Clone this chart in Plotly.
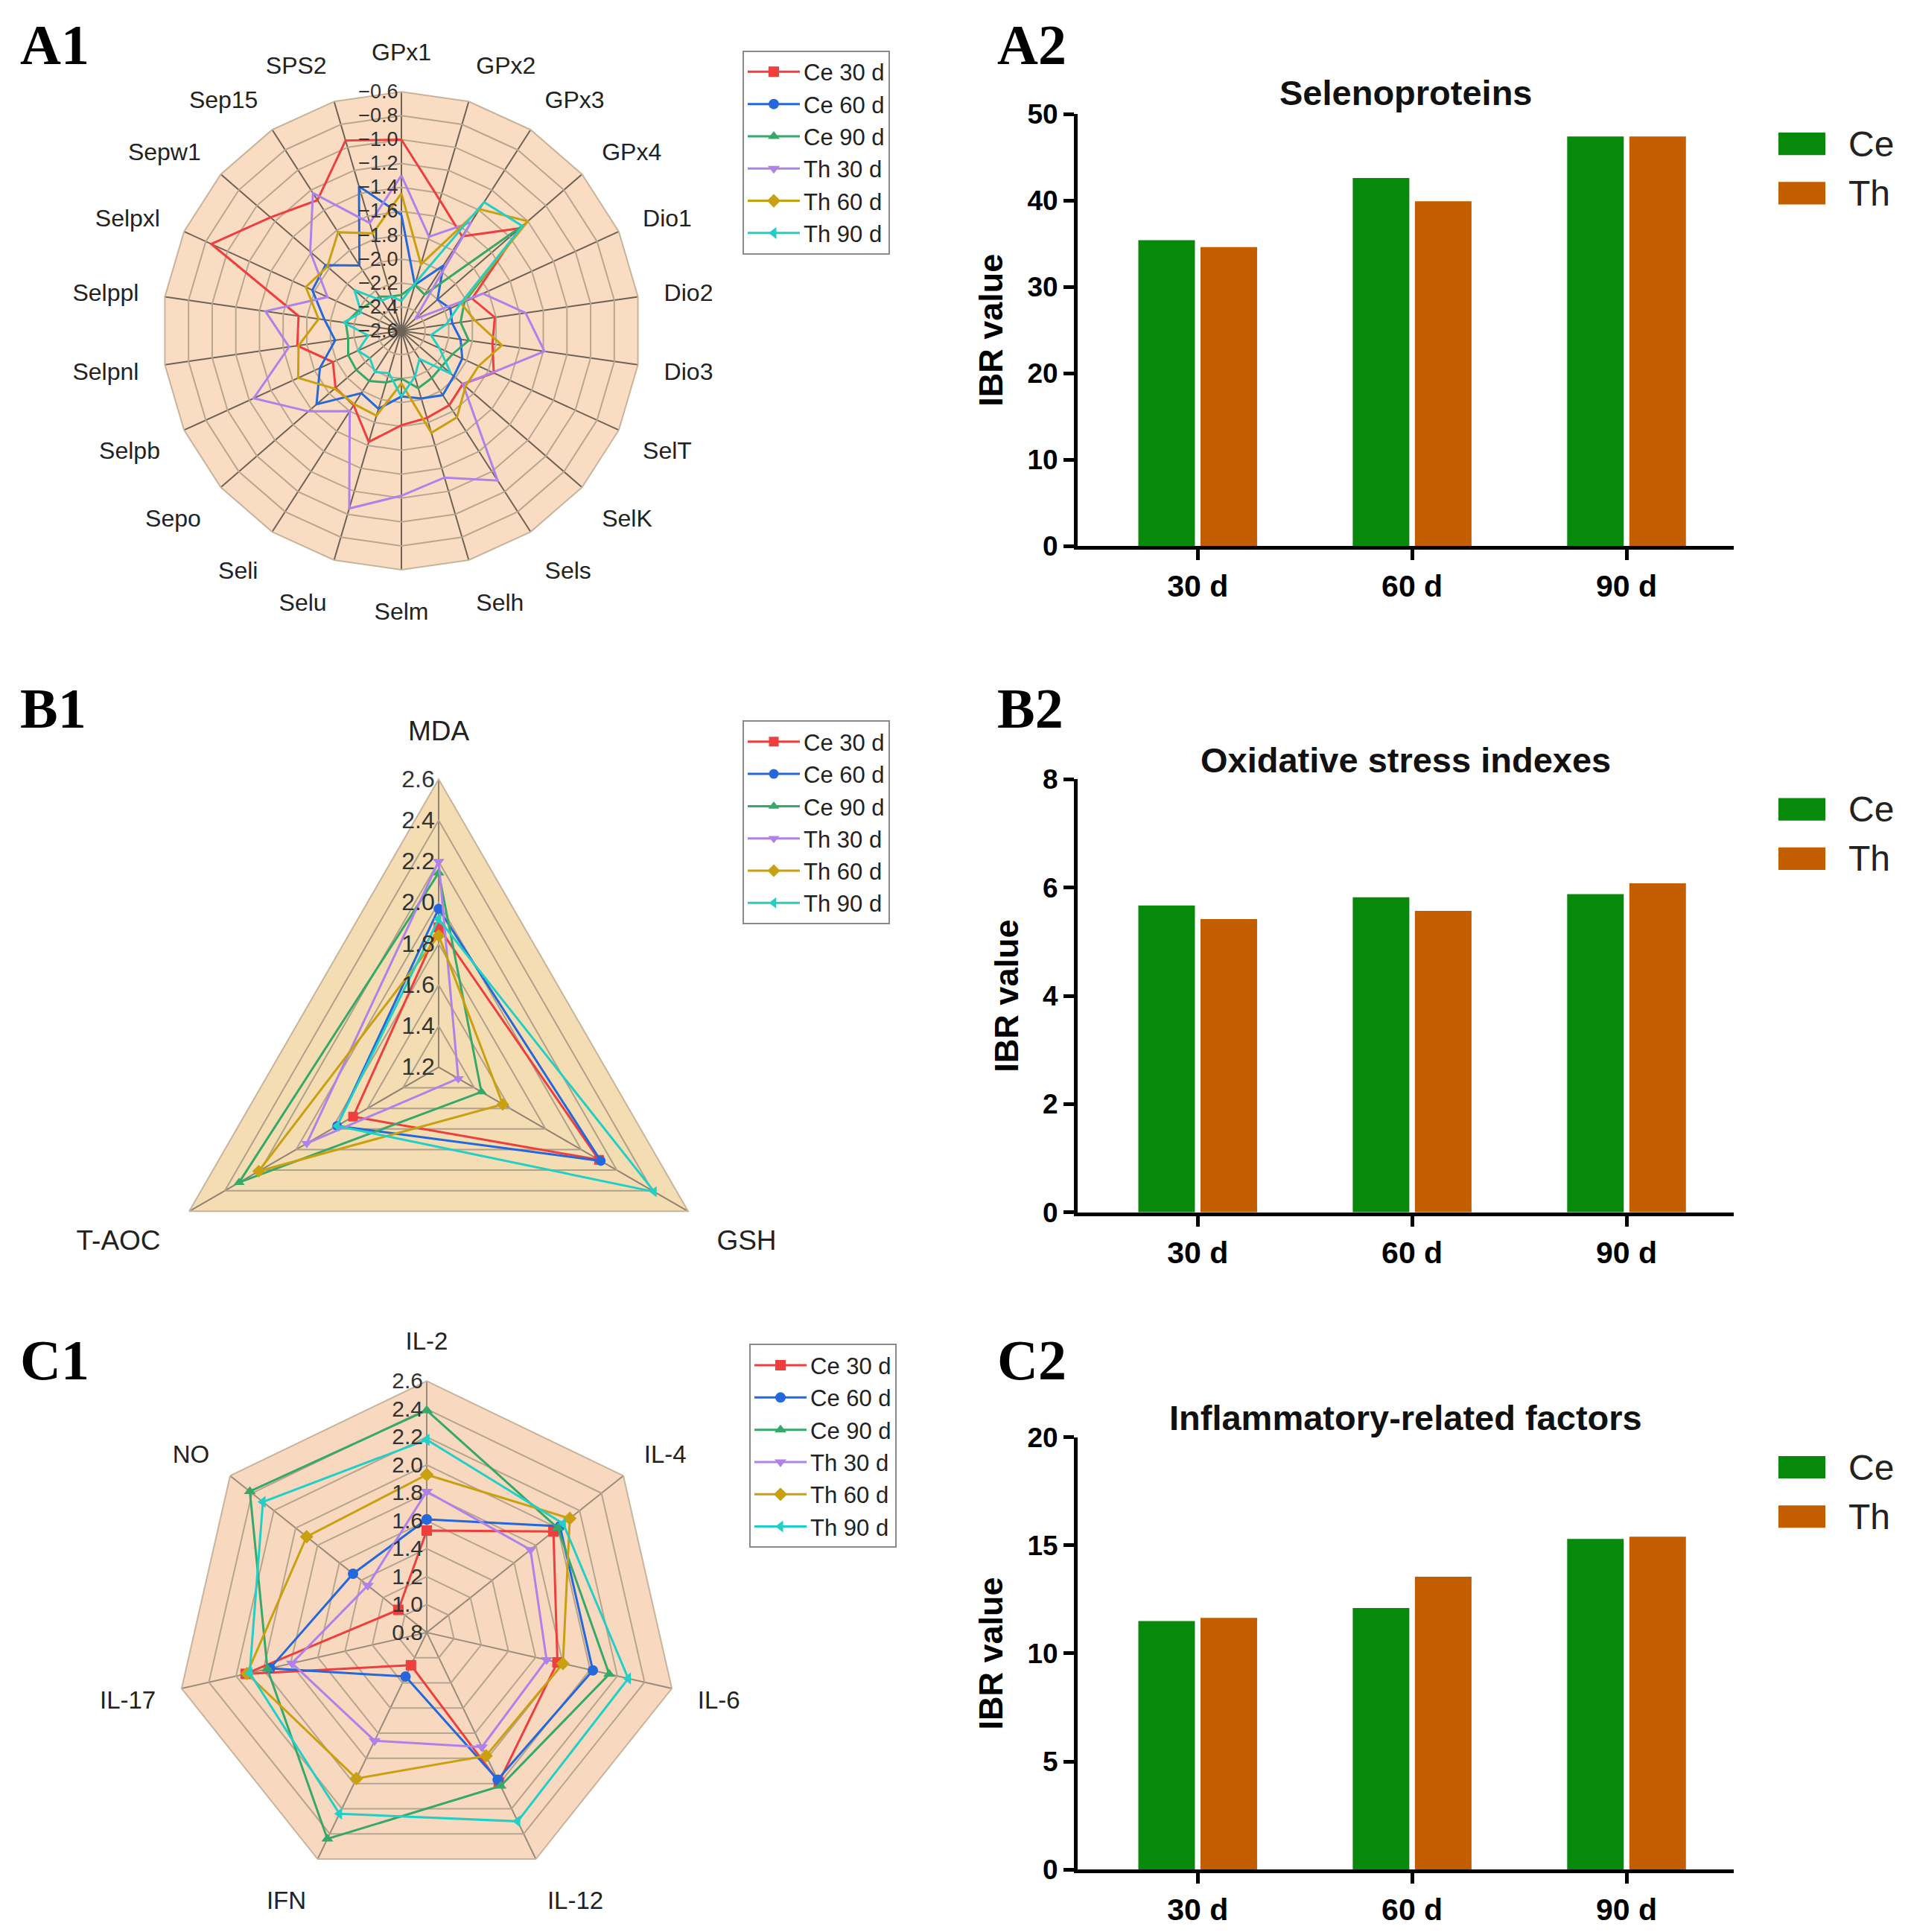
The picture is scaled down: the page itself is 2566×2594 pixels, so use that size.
import plotly.graph_objects as go

W, H = 2566, 2594

# ---------------- data ----------------
series_names = ["Ce 30 d", "Ce 60 d", "Ce 90 d", "Th 30 d", "Th 60 d", "Th 90 d"]
series_colors = ["#EE3E3E", "#2468DC", "#36A86A", "#AE82EA", "#C9A010", "#22CFC6"]
series_symbols = ["square", "circle", "triangle-up", "triangle-down", "diamond", "triangle-left"]

# A1 selenoproteins
a1_cats = ["GPx1", "GPx2", "GPx3", "GPx4", "Dio1", "Dio2", "Dio3", "SelT", "SelK", "Sels", "Selh",
           "Selm", "Selu", "Seli", "Sepo", "Selpb", "Selpnl", "Selppl", "Selpxl", "Sepw1", "Sep15", "SPS2"]
a1_ce30 = [-1.00, -1.46, -1.66, -1.29, -1.95, -1.81, -1.83, -1.75, -1.92, -1.86, -1.84,
           -1.81, -1.63, -1.86, -1.87, -1.97, -1.72, -1.73, -0.85, -1.15, -1.30, -0.94]
a1_ce60 = [-1.63, -2.20, -1.95, -2.20, -2.15, -2.17, -2.10, -2.04, -2.02, -1.96, -2.01,
           -2.05, -1.92, -1.98, -1.66, -1.85, -2.04, -1.95, -1.78, -1.76, -1.95, -1.34]
a1_ce90 = [-2.30, -2.20, -2.24, -1.25, -2.02, -2.10, -2.03, -2.13, -2.15, -2.13, -2.10,
           -2.20, -2.15, -2.10, -2.10, -2.11, -2.15, -2.13, -2.20, -2.25, -2.26, -2.30]
a1_th30 = [-1.30, -1.78, -1.52, -2.45, -1.85, -1.55, -1.39, -1.76, -1.92, -1.11, -1.32,
           -1.22, -1.05, -1.80, -1.57, -1.24, -1.65, -1.45, -1.92, -1.59, -1.23, -1.66]
a1_th60 = [-1.45, -2.02, -1.39, -1.20, -2.05, -1.98, -1.75, -1.89, -1.89, -1.74, -1.71,
           -2.16, -1.86, -1.87, -1.86, -1.65, -1.73, -1.90, -1.72, -1.78, -1.62, -1.75]
a1_th90 = [-2.35, -2.18, -1.32, -1.26, -2.06, -2.22, -2.35, -2.25, -2.05, -2.32, -2.20,
           -2.05, -2.23, -2.19, -2.25, -2.20, -2.32, -2.11, -2.23, -2.08, -2.30, -2.30]
a1_series = [a1_ce30, a1_ce60, a1_ce90, a1_th30, a1_th60, a1_th90]

# B1 oxidative stress
b1_cats = ["MDA", "GSH", "T-AOC"]
b1_ce30 = [1.88, 2.10, 1.68]
b1_ce60 = [1.97, 2.11, 1.77]
b1_ce90 = [2.145, 1.44, 2.32]
b1_th30 = [2.20, 1.31, 1.94]
b1_th60 = [1.84, 1.56, 2.21]
b1_th90 = [1.92, 2.41, 1.77]
b1_series = [b1_ce30, b1_ce60, b1_ce90, b1_th30, b1_th60, b1_th90]

# C1 inflammatory factors
c1_cats = ["IL-2", "IL-4", "IL-6", "IL-12", "IFN", "IL-17", "NO"]
c1_ce30 = [1.53, 1.96, 1.76, 1.99, 1.06, 2.13, 1.06]
c1_ce60 = [1.61, 2.02, 2.02, 1.97, 1.15, 1.95, 1.475]
c1_ce90 = [2.39, 2.00, 2.14, 2.02, 2.44, 1.97, 2.42]
c1_th30 = [1.81, 1.75, 1.68, 1.71, 1.66, 1.79, 1.34]
c1_th60 = [1.93, 2.11, 1.80, 1.78, 1.96, 2.12, 1.90]
c1_th90 = [2.18, 2.05, 2.28, 2.30, 2.24, 2.10, 2.30]
c1_series = [c1_ce30, c1_ce60, c1_ce90, c1_th30, c1_th60, c1_th90]

# IBR bar charts
days = ["30 d", "60 d", "90 d"]
a2_ce = [35.4, 42.6, 47.4]
a2_th = [34.6, 39.9, 47.4]
b2_ce = [5.67, 5.82, 5.88]
b2_th = [5.42, 5.57, 6.08]
c2_ce = [11.5, 12.1, 15.3]
c2_th = [11.65, 13.55, 15.4]

bar_colors = {"Ce": "#078A0B", "Th": "#C35E00"}

SANS = "Arial, Liberation Sans, sans-serif"
SERIF = "Times New Roman, Liberation Serif, serif"


def px_x(x):
    return x / W


def Y(y):
    # vertical placement correction observed between requested and photographed positions
    return 1.02 * y - 27


def px_y(y):
    return 1 - Y(y) / H


fig = go.Figure()

# ---------------- radar traces ----------------
radars = [
    ("polar", "legend", a1_cats, a1_series, 14),
    ("polar2", "legend2", b1_cats, b1_series, 13),
    ("polar3", "legend3", c1_cats, c1_series, 14),
]
for subplot, leg, cats, series, msize in radars:
    for name, color, sym, vals in zip(series_names, series_colors, series_symbols, series):
        fig.add_trace(go.Scatterpolar(
            r=list(vals) + [vals[0]],
            theta=list(cats) + [cats[0]],
            mode="lines+markers",
            name=name,
            line=dict(color=color, width=3),
            marker=dict(symbol=sym, size=msize, color=color),
            subplot=subplot,
            legend=leg,
        ))

# ---------------- bar traces ----------------
bars = [
    ("x", "y", a2_ce, a2_th),
    ("x2", "y2", b2_ce, b2_th),
    ("x3", "y3", c2_ce, c2_th),
]
for xa, ya, ce, th in bars:
    fig.add_trace(go.Bar(x=days, y=ce, name="Ce", marker=dict(color=bar_colors["Ce"], line=dict(width=0)),
                         xaxis=xa, yaxis=ya, showlegend=False))
    fig.add_trace(go.Bar(x=days, y=th, name="Th", marker=dict(color=bar_colors["Th"], line=dict(width=0)),
                         xaxis=xa, yaxis=ya, showlegend=False))


# ---------------- polar layouts ----------------
def polar_layout(cx, cy, rad, rng, bg, ang_font, rad_font, ticklen, gridcolor, spokecolor):
    ycen = 1 - Y(cy) / H
    half = rad / H
    return dict(
        domain=dict(x=[px_x(cx - rad), px_x(cx + rad)], y=[ycen - half, ycen + half]),
        bgcolor=bg,
        gridshape="linear",
        angularaxis=dict(
            direction="clockwise", rotation=90,
            tickfont=dict(family=SANS, size=ang_font, color="#222"),
            ticks="outside", ticklen=ticklen, tickcolor="rgba(0,0,0,0)",
            showline=True, linecolor="#C8B49C", linewidth=2,
            gridcolor=spokecolor, gridwidth=2,
        ),
        radialaxis=dict(
            range=rng, dtick=0.2, tickformat=".1f", angle=90, tickangle=90,
            side="counterclockwise",
            tickfont=dict(family=SANS, size=rad_font, color="#333"),
            showline=False, ticks="", gridcolor=gridcolor, gridwidth=2,
        ),
    )


polar_a = polar_layout(531, 441, 326, [-2.6, -0.6], "#FADCC2", 32, 27, 28, "#B8A690", "#6E6256")
polar_b = polar_layout(581, 1426, 393, [1.2, 2.6], "#F4DDB2", 37, 32, 36, "#AFA08A", "#8E8272")
polar_c = polar_layout(565, 2182, 343, [0.8, 2.6], "#F8D8BE", 33, 30, 28, "#B5A48E", "#9A8C7C")


def legend_layout(x, y):
    return dict(
        x=px_x(x), y=px_y(y), xanchor="left", yanchor="top",
        bgcolor="white", bordercolor="#8A8A8A", borderwidth=2,
        font=dict(family=SANS, size=31, color="#222"),
        tracegroupgap=0, itemwidth=70,
    )


# ---------------- bar axes ----------------
bar_x0, bar_x1 = 1439, 2320
bar_panels = [
    # (y top px, y bottom px, ymax, dtick, title, title y px)
    (151, 729, 50, 10, "Selenoproteins", 123),
    (1041, 1620, 8, 2, "Oxidative stress indexes", 1015),
    (1921, 2499, 20, 5, "Inflammatory-related factors", 1895),
]


def xaxis_layout(anchor):
    return dict(
        domain=[px_x(bar_x0), px_x(bar_x1)], anchor=anchor,
        range=[-0.56, 2.5], showline=True, linecolor="black", linewidth=5,
        ticks="outside", ticklen=14, tickwidth=5, tickcolor="black",
        tickfont=dict(family=SANS, size=41, color="black", weight="bold"),
        showgrid=False, zeroline=False, fixedrange=True,
    )


def yaxis_layout(anchor, ytop, ybot, ymax, dtick):
    return dict(
        domain=[px_y(ybot), px_y(ytop)], anchor=anchor,
        range=[0, ymax], dtick=dtick, showline=True, linecolor="black", linewidth=5,
        ticks="outside", ticklen=14, tickwidth=5, tickcolor="black",
        tickfont=dict(family=SANS, size=37, color="black", weight="bold"),
        title=dict(text="IBR value", font=dict(family=SANS, size=45, color="black", weight="bold"), standoff=20),
        showgrid=False, zeroline=False,
    )


layout = dict(
    width=W, height=H,
    margin=dict(l=0, r=0, t=0, b=0),
    paper_bgcolor="white", plot_bgcolor="white",
    polar=polar_a, polar2=polar_b, polar3=polar_c,
    legend=legend_layout(989, 66),
    legend2=legend_layout(989, 962),
    legend3=legend_layout(998, 1796),
    barmode="group", bargap=0.42, bargroupgap=0.09,
    xaxis=xaxis_layout("y"),
    yaxis=yaxis_layout("x", *bar_panels[0][:4]),
    xaxis2=xaxis_layout("y2"),
    yaxis2=yaxis_layout("x2", *bar_panels[1][:4]),
    xaxis3=xaxis_layout("y3"),
    yaxis3=yaxis_layout("x3", *bar_panels[2][:4]),
    showlegend=True,
)
fig.update_layout(**layout)

annotations = []
shapes = []
# panel letters
for txt, x, y in [("A1", 17, 58), ("A2", 1329, 58), ("B1", 17, 946), ("B2", 1329, 946),
                  ("C1", 17, 1818), ("C2", 1329, 1818)]:
    annotations.append(dict(text=txt, x=px_x(x), y=px_y(y), xref="paper", yref="paper",
                            xanchor="left", yanchor="middle", showarrow=False,
                            font=dict(family=SERIF, size=76, color="black", weight="bold")))
# bar titles and legends
for (ytop, ybot, ymax, dtick, title, ty) in bar_panels:
    annotations.append(dict(text=title, x=px_x((bar_x0 + bar_x1) / 2), y=px_y(ty), xref="paper", yref="paper",
                            xanchor="center", yanchor="middle", showarrow=False,
                            font=dict(family=SANS, size=47, color="#111", weight="bold")))
    for i, (lab, col) in enumerate(bar_colors.items()):
        cy = ytop + 40 + i * 66
        shapes.append(dict(type="rect", xref="paper", yref="paper",
                           x0=px_x(2380), x1=px_x(2443), y0=px_y(cy + 15), y1=px_y(cy - 15),
                           fillcolor=col, line=dict(width=0)))
        annotations.append(dict(text=lab, x=px_x(2472), y=px_y(cy), xref="paper", yref="paper",
                                xanchor="left", yanchor="middle", showarrow=False,
                                font=dict(family="Liberation Sans Narrow, Arial Narrow, " + SANS, size=48, color="#222")))
fig.update_layout(annotations=annotations, shapes=shapes)

fig.write_html("out.html")
